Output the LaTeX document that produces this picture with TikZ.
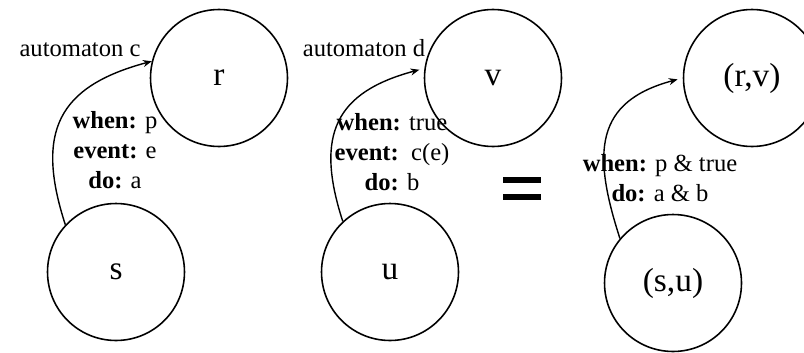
\documentclass[tikz,border=0pt]{standalone}
\usepackage{fontspec}
\setmainfont{Liberation Serif}
\usetikzlibrary{arrows.meta}
\begin{document}
\begin{tikzpicture}[x=0.02cm,y=-0.02cm,
		state/.style={draw,circle,line width=0.9pt,minimum size=2.74cm,inner sep=0pt,font=\fontsize{19}{19}\selectfont},
		trans/.style={-{Stealth[length=5pt,width=4pt]},line width=0.8pt},
		lbl/.style={inner sep=0pt,align=center,font=\fontsize{14}{17}\selectfont}]
	\useasboundingbox (0,0) rectangle (804,352);
	% automaton c
	\node[state] (r) at (219,78) {r};
	\node[state] (s) at (116,272) {s};
	\node[lbl] (autc) at (80,50) {automaton c};
	\draw[trans] (s.137) to[out=108,in=195,looseness=1.35] (r.166);
	\node[lbl] (tc) at (115,150) {\textbf{when:} p\\\textbf{event:} e\\\textbf{do:} a};
	% automaton d
	\node[state] (v) at (493,78) {v};
	\node[state] (u) at (390,272) {u};
	\node[lbl] (autd) at (364,48) {automaton d};
	\draw[trans,shorten >=3pt] (u.133) to[out=108,in=195,looseness=1.35] (v.172);
	\node[lbl] (td) at (392,152) {\textbf{when:} true\\\textbf{event:}\ \ c(e)\\\textbf{do:} b};
	% =
	\fill (503,177) rectangle (541,183);
	\fill (503,194) rectangle (541,200);
	% product
	\node[state] (rv) at (752,78) {(r,v)};
	\node[state] (su) at (673,283) {(s,u)};
	\draw[trans,shorten >=3pt] (su.140) to[out=108,in=195,looseness=1.35] (rv.180);
	\node[lbl] (tp) at (660,178) {\textbf{when:} p \& true\\\textbf{do:} a \& b};
\end{tikzpicture}
\end{document}
